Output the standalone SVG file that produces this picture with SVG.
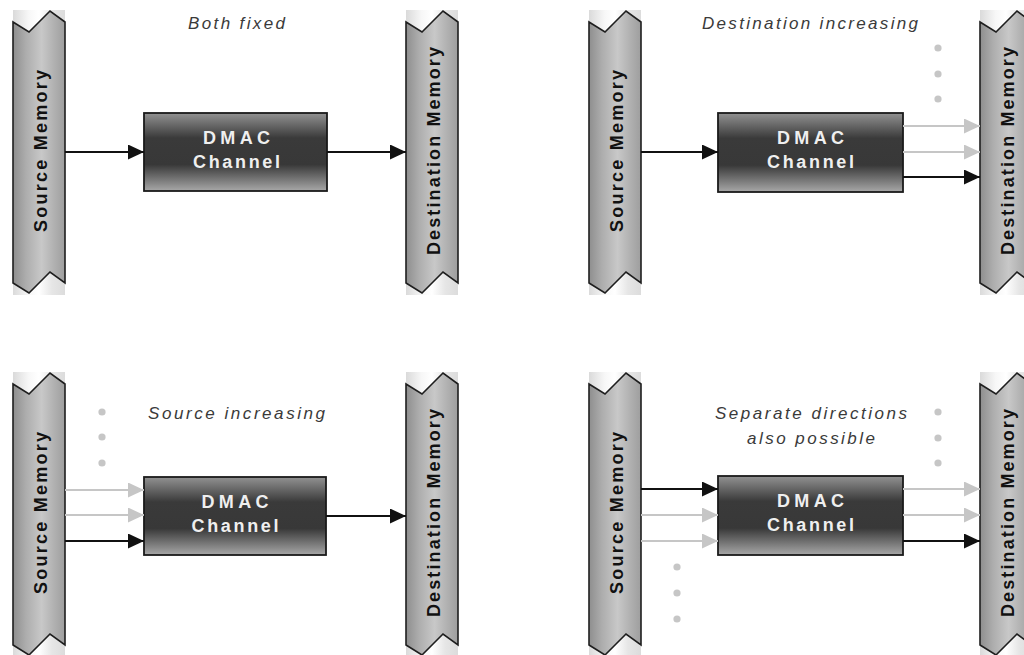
<svg xmlns="http://www.w3.org/2000/svg" xmlns:xlink="http://www.w3.org/1999/xlink" width="1024" height="655" viewBox="0 0 1024 655">
  <style>
    .band { fill: url(#bandFill); stroke: #1e1e1e; stroke-width: 1.6; stroke-linejoin: miter; }
    .haze { fill: url(#hazeFill); }
    .memlabel { font-family: "Liberation Sans", Arial, sans-serif; font-weight: bold; font-size: 18px; fill: #111; }
    .box { fill: url(#boxFill); stroke: #1a1a1a; stroke-width: 1.8; }
    .boxlabel { font-family: "Liberation Sans", Arial, sans-serif; font-weight: bold; font-size: 18px; fill: #efefef; text-anchor: middle; }
    .title { font-family: "Liberation Sans", Arial, sans-serif; font-style: italic; font-size: 17px; fill: #3a3a3a; text-anchor: middle; }
    .dot { fill: #c6c6c6; }
    .wire { stroke: #111; stroke-width: 2; fill: none; marker-end: url(#headDark); }
    .wire.faint { stroke: #c6c6c6; marker-end: url(#headLight); }
  </style>
  <defs>
    <linearGradient id="bandFill" x1="0" y1="0" x2="1" y2="0">
      <stop offset="0" stop-color="#8e8e8e"/>
      <stop offset="0.25" stop-color="#adadad"/>
      <stop offset="0.55" stop-color="#c8c8c8"/>
      <stop offset="0.8" stop-color="#b0b0b0"/>
      <stop offset="1" stop-color="#9e9e9e"/>
    </linearGradient>
    <linearGradient id="hazeFill" x1="0" y1="0" x2="1" y2="0">
      <stop offset="0" stop-color="#dadada"/>
      <stop offset="0.3" stop-color="#f7f7f7"/>
      <stop offset="0.5" stop-color="#ffffff"/>
      <stop offset="0.75" stop-color="#e6e6e6"/>
      <stop offset="1" stop-color="#dcdcdc"/>
    </linearGradient>
    <linearGradient id="boxFill" x1="0" y1="0" x2="0" y2="1">
      <stop offset="0" stop-color="#929292"/>
      <stop offset="0.32" stop-color="#3a3a3a"/>
      <stop offset="0.66" stop-color="#383838"/>
      <stop offset="1" stop-color="#a8a8a8"/>
    </linearGradient>
    <!-- torn memory strip, 52 wide -->
    <path id="strip" d="M0,22 L16,32 L37,11 L52,22 L52,283 L37,272 L16,293 L0,283 Z"/>
    <marker id="headDark" markerUnits="userSpaceOnUse" markerWidth="16" markerHeight="16" refX="16" refY="7.5" orient="auto">
      <path d="M0,0 L16,7.5 L0,15 Z" fill="#111"/>
    </marker>
    <marker id="headLight" markerUnits="userSpaceOnUse" markerWidth="16" markerHeight="16" refX="16" refY="7.5" orient="auto">
      <path d="M0,0 L16,7.5 L0,15 Z" fill="#c6c6c6"/>
    </marker>
  </defs>

  <rect width="1024" height="655" fill="#ffffff"/>

  <!-- titles -->
  <g id="titles">
    <text class="title" x="236.5" y="29" textLength="97" lengthAdjust="spacing">Both fixed</text>
    <text class="title" x="810" y="29" textLength="216" lengthAdjust="spacing">Destination increasing</text>
    <text class="title" x="236.5" y="419" textLength="177" lengthAdjust="spacing">Source increasing</text>
    <text class="title" x="811" y="419" textLength="192" lengthAdjust="spacing">Separate directions</text>
    <text class="title" x="811" y="444" textLength="128" lengthAdjust="spacing">also possible</text>
  </g>

  <!-- source memories -->
  <g id="src-fixed">
    <rect class="haze" x="13" y="10" width="52" height="285"/>
    <use xlink:href="#strip" class="band" x="13" y="0"/>
    <text class="memlabel" transform="translate(46.5,151) rotate(-90)" text-anchor="middle" textLength="162" lengthAdjust="spacing">Source Memory</text>
  </g>
  <g id="src-dinc">
    <rect class="haze" x="589" y="10" width="52" height="285"/>
    <use xlink:href="#strip" class="band" x="589" y="0"/>
    <text class="memlabel" transform="translate(622.5,151) rotate(-90)" text-anchor="middle" textLength="162" lengthAdjust="spacing">Source Memory</text>
  </g>
  <g id="src-sinc">
    <rect class="haze" x="13" y="372" width="52" height="283"/>
    <use xlink:href="#strip" class="band" x="13" y="362"/>
    <text class="memlabel" transform="translate(46.5,513) rotate(-90)" text-anchor="middle" textLength="162" lengthAdjust="spacing">Source Memory</text>
  </g>
  <g id="src-sep">
    <rect class="haze" x="589" y="372" width="52" height="283"/>
    <use xlink:href="#strip" class="band" x="589" y="362"/>
    <text class="memlabel" transform="translate(622.5,513) rotate(-90)" text-anchor="middle" textLength="162" lengthAdjust="spacing">Source Memory</text>
  </g>

  <!-- destination memories -->
  <g id="dst-fixed">
    <rect class="haze" x="406" y="10" width="52" height="285"/>
    <use xlink:href="#strip" class="band" x="406" y="0"/>
    <text class="memlabel" transform="translate(439.5,151) rotate(-90)" text-anchor="middle" textLength="208" lengthAdjust="spacing">Destination Memory</text>
  </g>
  <g id="dst-dinc">
    <rect class="haze" x="980" y="10" width="52" height="285"/>
    <use xlink:href="#strip" class="band" x="980" y="0"/>
    <text class="memlabel" transform="translate(1013.5,151) rotate(-90)" text-anchor="middle" textLength="208" lengthAdjust="spacing">Destination Memory</text>
  </g>
  <g id="dst-sinc">
    <rect class="haze" x="406" y="372" width="52" height="283"/>
    <use xlink:href="#strip" class="band" x="406" y="362"/>
    <text class="memlabel" transform="translate(439.5,513) rotate(-90)" text-anchor="middle" textLength="208" lengthAdjust="spacing">Destination Memory</text>
  </g>
  <g id="dst-sep">
    <rect class="haze" x="980" y="372" width="52" height="283"/>
    <use xlink:href="#strip" class="band" x="980" y="362"/>
    <text class="memlabel" transform="translate(1013.5,513) rotate(-90)" text-anchor="middle" textLength="208" lengthAdjust="spacing">Destination Memory</text>
  </g>

  <!-- DMAC channels -->
  <g id="dmac-fixed">
    <rect class="box" x="144" y="113" width="183" height="78"/>
    <text class="boxlabel" x="236.5" y="144" textLength="67" lengthAdjust="spacing">DMAC</text>
    <text class="boxlabel" x="236.5" y="168" textLength="87" lengthAdjust="spacing">Channel</text>
  </g>
  <g id="dmac-dinc">
    <rect class="box" x="718" y="113" width="185" height="79"/>
    <text class="boxlabel" x="810.5" y="144" textLength="67" lengthAdjust="spacing">DMAC</text>
    <text class="boxlabel" x="810.5" y="168" textLength="87" lengthAdjust="spacing">Channel</text>
  </g>
  <g id="dmac-sinc">
    <rect class="box" x="144" y="477" width="182" height="78"/>
    <text class="boxlabel" x="235" y="508" textLength="67" lengthAdjust="spacing">DMAC</text>
    <text class="boxlabel" x="235" y="532" textLength="87" lengthAdjust="spacing">Channel</text>
  </g>
  <g id="dmac-sep">
    <rect class="box" x="718" y="476" width="185" height="79"/>
    <text class="boxlabel" x="810.5" y="507" textLength="67" lengthAdjust="spacing">DMAC</text>
    <text class="boxlabel" x="810.5" y="531" textLength="87" lengthAdjust="spacing">Channel</text>
  </g>

  <!-- continuation dots -->
  <g id="dots">
    <circle class="dot" cx="938" cy="48" r="3.6"/>
    <circle class="dot" cx="938" cy="74" r="3.6"/>
    <circle class="dot" cx="938" cy="99" r="3.6"/>
    <circle class="dot" cx="102" cy="412" r="3.6"/>
    <circle class="dot" cx="102" cy="437" r="3.6"/>
    <circle class="dot" cx="102" cy="463" r="3.6"/>
    <circle class="dot" cx="938" cy="412" r="3.6"/>
    <circle class="dot" cx="938" cy="438" r="3.6"/>
    <circle class="dot" cx="938" cy="463" r="3.6"/>
    <circle class="dot" cx="677" cy="567" r="3.6"/>
    <circle class="dot" cx="677" cy="593" r="3.6"/>
    <circle class="dot" cx="677" cy="619" r="3.6"/>
  </g>

  <!-- transfers -->
  <g id="connectors">
    <!-- both fixed -->
    <line class="wire" x1="65" y1="152" x2="144" y2="152"/>
    <line class="wire" x1="327" y1="152" x2="406" y2="152"/>
    <!-- destination increasing -->
    <line class="wire" x1="641" y1="152" x2="718" y2="152"/>
    <line class="wire faint" x1="903" y1="126" x2="980" y2="126"/>
    <line class="wire faint" x1="903" y1="152" x2="980" y2="152"/>
    <line class="wire" x1="903" y1="177" x2="980" y2="177"/>
    <!-- source increasing -->
    <line class="wire faint" x1="65" y1="490" x2="144" y2="490"/>
    <line class="wire faint" x1="65" y1="515" x2="144" y2="515"/>
    <line class="wire" x1="65" y1="541" x2="144" y2="541"/>
    <line class="wire" x1="326" y1="516" x2="406" y2="516"/>
    <!-- separate directions -->
    <line class="wire" x1="641" y1="489" x2="718" y2="489"/>
    <line class="wire faint" x1="641" y1="515" x2="718" y2="515"/>
    <line class="wire faint" x1="641" y1="541" x2="718" y2="541"/>
    <line class="wire faint" x1="903" y1="489" x2="980" y2="489"/>
    <line class="wire faint" x1="903" y1="515" x2="980" y2="515"/>
    <line class="wire" x1="903" y1="541" x2="980" y2="541"/>
  </g>
</svg>
